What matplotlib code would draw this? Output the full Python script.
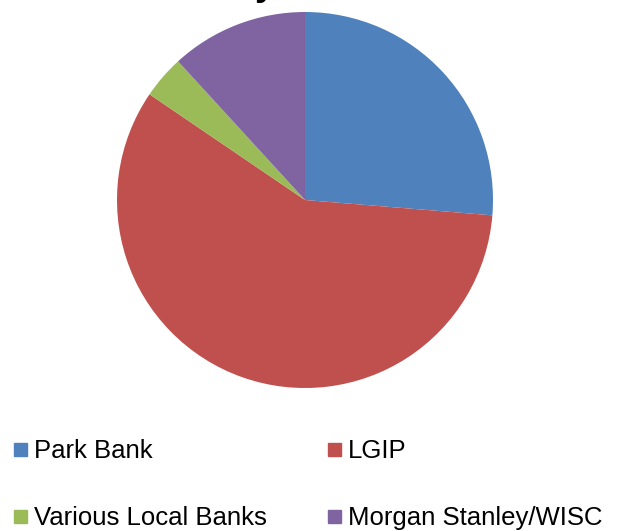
import matplotlib.pyplot as plt
from matplotlib.patches import Rectangle

# slice data
labels = ["Park Bank", "LGIP", "Various Local Banks", "Morgan Stanley/WISC"]
shares = [26.3, 58.2, 3.7, 11.8]
colors = ["#4F81BD", "#C0504D", "#9BBB59", "#8064A2"]

plt.rcParams['font.family'] = ['Liberation Sans', 'DejaVu Sans']

W, H = 619, 531
fig = plt.figure(figsize=(W / 100, H / 100), dpi=100)

# pie: centre (305, 200) px, radius 188 px
cx, cy, r = 305, 200, 188
ax = fig.add_axes([(cx - r) / W, (H - cy - r) / H, 2 * r / W, 2 * r / H])
ax.pie(shares, colors=colors, startangle=90, counterclock=False,
       wedgeprops=dict(linewidth=0))
ax.set_xlim(-1, 1)
ax.set_ylim(-1, 1)
ax.set_aspect('equal')
ax.axis('off')

# title, mostly cut off at the top
fig.text(0.492, 1 + 5 / H, "Investments\nby Bank", ha='center', va='baseline',
         fontsize=27, fontweight='bold')

# legend in two columns
col_x = [14, 328]
row_base = [458, 525]
for i, (lab, c) in enumerate(zip(labels, colors)):
    x = col_x[i % 2]
    yb = row_base[i // 2]
    fig.patches.append(Rectangle((x / W, (H - yb + 2) / H), 13 / W, 13 / H,
                                 transform=fig.transFigure, color=c, figure=fig))
    fig.text((x + 20) / W, (H - yb) / H, lab, ha='left', va='baseline', fontsize=18.5)

fig.savefig("out.png", dpi=100)
